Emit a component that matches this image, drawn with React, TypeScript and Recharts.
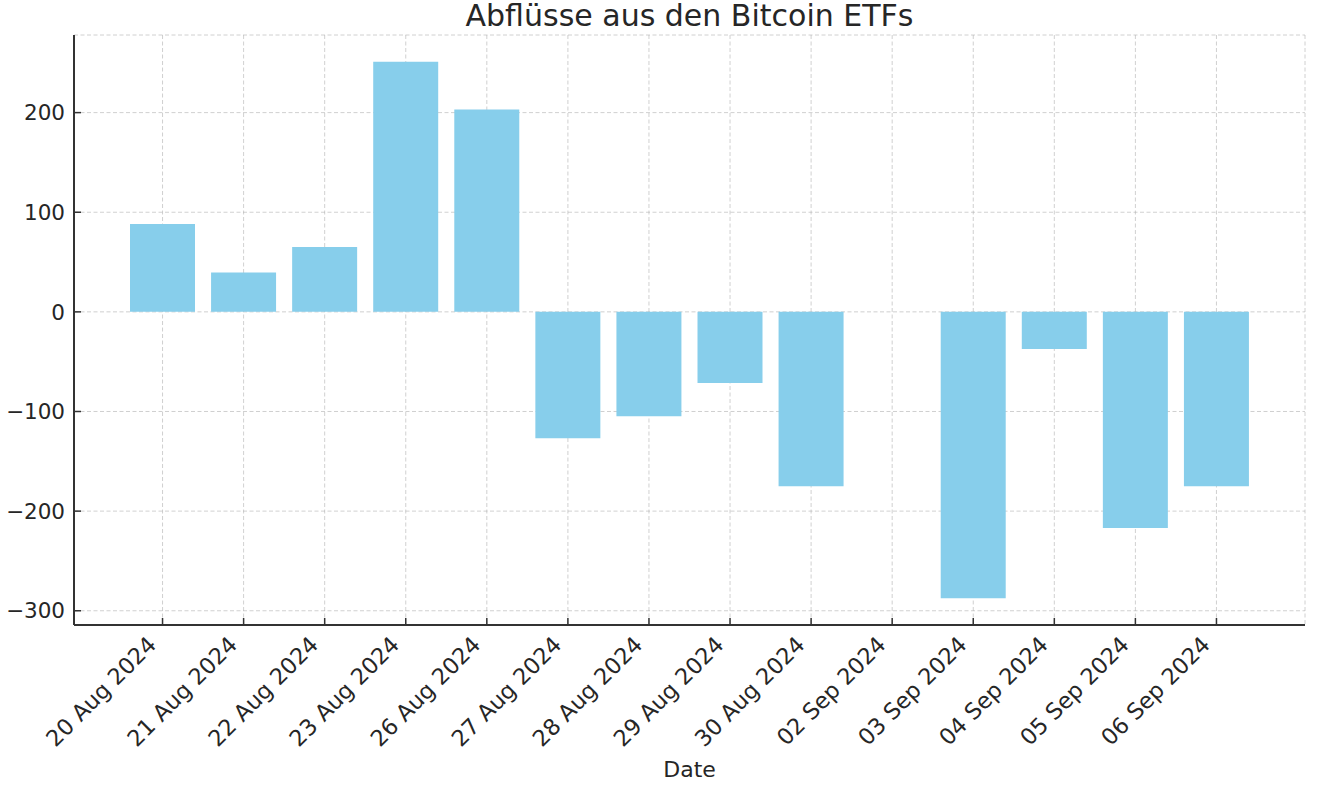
import { BarChart, Bar, XAxis, YAxis, CartesianGrid } from 'recharts';

const dates = [
  '20 Aug 2024',
  '21 Aug 2024',
  '22 Aug 2024',
  '23 Aug 2024',
  '26 Aug 2024',
  '27 Aug 2024',
  '28 Aug 2024',
  '29 Aug 2024',
  '30 Aug 2024',
  '02 Sep 2024',
  '03 Sep 2024',
  '04 Sep 2024',
  '05 Sep 2024',
  '06 Sep 2024',
];
const flows = [88.1, 39.4, 65, 251, 203, -126.8, -104.8, -71.5, -175, 0, -287.4, -37.2, -217, -175];
const yTicks = [-300, -200, -100, 0, 100, 200];

const data = dates.map((d, i) => ({ date: d, flow: flows[i] }));

const FONT = "'DejaVu Sans', sans-serif";
const TEXT = '#262626';
const AXIS = '#333';

const XTick = ({ x, y, payload }: any) => {
  const tx = x - 5;
  const ty = y + 21;
  return (
    <g>
      <line x1={x} x2={x} y1={y} y2={y - 7} stroke={AXIS} strokeWidth={1.5} />
      <text
        x={tx}
        y={ty}
        transform={`rotate(-45, ${tx}, ${ty})`}
        textAnchor='end'
        fontSize={22.5}
        fontFamily={FONT}
        fill={TEXT}
      >
        {payload.value}
      </text>
    </g>
  );
};

const YTick = ({ x, y, payload }: any) => {
  return (
    <g>
      <line x1={x} x2={x + 7} y1={y} y2={y} stroke={AXIS} strokeWidth={1.5} />
      <text
        x={x - 9}
        y={y}
        dy='0.36em'
        textAnchor='end'
        fontSize={21.5}
        fontFamily={FONT}
        fill={TEXT}
      >
        {String(payload.value).replace('-', '\u2212')}
      </text>
    </g>
  );
};

export default function App() {
  return (
    <div style={{ position: 'absolute', left: 0, top: 0, width: 1319, height: 794, background: '#fff' }}>
      <div
        style={{
          position: 'absolute',
          left: 74,
          width: 1231,
          top: 1,
          textAlign: 'center',
          fontFamily: FONT,
          fontSize: 30,
          lineHeight: '30px',
          color: TEXT,
          whiteSpace: 'nowrap',
        }}
      >
        Abflüsse aus den Bitcoin ETFs
      </div>
      <BarChart
        width={1319}
        height={794}
        data={data}
        margin={{ top: 35, right: 14, bottom: 0, left: 0 }}
      >
        <XAxis
          dataKey='date'
          height={169}
          padding={{ left: 48, right: 48 }}
          tickSize={0}
          tickMargin={0}
          tickLine={false}
          axisLine={{ stroke: AXIS, strokeWidth: 2 }}
          tick={<XTick />}
          interval={0}
          label={{
            value: 'Date',
            position: 'insideBottom',
            offset: 17,
            fontSize: 22,
            fontFamily: FONT,
            fill: TEXT,
          }}
        />
        <YAxis
          width={74}
          type='number'
          domain={[-314.3, 277.9]}
          ticks={yTicks}
          allowDataOverflow
          tickSize={0}
          tickMargin={0}
          tickLine={false}
          axisLine={{ stroke: AXIS, strokeWidth: 2 }}
          tick={<YTick />}
        />
        <Bar dataKey='flow' fill='#87CEEB' barSize={65} isAnimationActive={false} />
        <CartesianGrid stroke='#b0b0b0' strokeOpacity={0.6} strokeDasharray='4 2.5' />
      </BarChart>
    </div>
  );
}
